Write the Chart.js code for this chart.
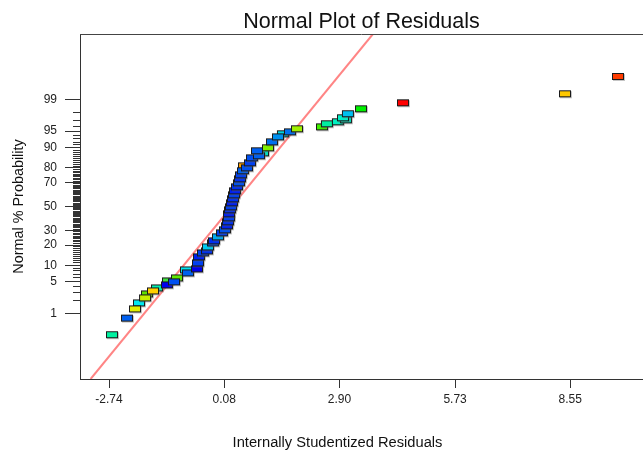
<!DOCTYPE html>
<html>
<head>
<meta charset="utf-8">
<script src="https://cdn.jsdelivr.net/npm/chart.js@4.4.0/dist/chart.umd.min.js"></script>
<style>
  body{margin:0;background:#fff;}
  #caja{width:643px;height:451px;}
</style>
</head>
<body>
<div id="caja"><canvas id="grafico"></canvas></div>
<script>
// residuos estudentizados y su % de probabilidad normal
var residuos = [0.563, 1.028, 1.517, -1.811, -1.297, -0.856,
  -2.667, -2.30, -2.006, -2.104, -1.859, -1.566, -1.664, -1.321, -1.076, -1.150,
  -0.807, -0.587, -0.563, -0.538, -0.44, -0.342, -0.318, -0.196, -0.171, -0.073,
  0.025, 0.098, 0.147, 0.172, 0.196, 0.196, 0.221, 0.245, 0.269, 0.294, 0.318,
  0.343, 0.392, 0.441, 0.465, 0.49, 0.539, 0.636, 0.71, 0.759, 0.93, 0.881,
  1.15, 1.248, 1.395, 1.689, 1.86, 2.472, 2.594, 2.863, 3.059, 2.986, 3.108,
  3.427, 4.455, 8.42, 9.717];
var probabilidad = [81.24, 87.90, 94.35, 2.84, 5.24, 8.35,
  0.26, 0.75, 1.78, 1.28, 2.32, 3.80, 3.29, 4.37, 5.98, 5.02,
  7.39, 8.69, 10.95, 13.61, 15.60, 16.67, 18.94, 21.39, 22.69, 25.40,
  28.27, 30.53, 33.65, 36.89, 40.21, 43.64, 47.09, 49.70, 53.17, 56.62, 60.03,
  63.35, 66.59, 69.70, 72.68, 75.50, 78.17, 80.04, 82.94, 85.57, 86.54, 88.76,
  89.96, 92.07, 93.56, 94.82, 95.49, 95.88, 96.43, 96.76, 97.06, 97.34, 97.84,
  98.34, 98.81, 99.30, 99.77];
var colores = ['#ffa000', '#00e0c0', '#00d8e0', '#60e000', '#40e040', '#00e0f0',
  '#00f0a0', '#0060f0', '#00e8f0', '#e0f000', '#c8f000', '#00f0b0', '#ffd000', '#0000f0', '#60e800', '#0050f0',
  '#0060f0', '#0000e8', '#0040f0', '#0020f0', '#0040f0', '#0030e8', '#00c8f0', '#0050f0', '#0030f0', '#00a8f0',
  '#0040f0', '#0050f0', '#0020f0', '#0030f0', '#0040f0', '#0020f0', '#0030f0', '#0040f0', '#0020f0', '#0030f0', '#0040f0',
  '#0020f0', '#0030f0', '#0050f0', '#0030f0', '#0040f0', '#0060f0', '#0050f0', '#0040f0', '#0050f0', '#0060f0', '#0060f0',
  '#80f000', '#0070f0', '#0090f0', '#0070f0', '#a0f000', '#40f000', '#00f0a0', '#00f0c0', '#00e8c0', '#00f0c8', '#00c0f0',
  '#00f000', '#ff0000', '#ffc800', '#ff3c00'];

// linea de referencia (extremos, en unidades normales)
var lineaX = [-3.19, 3.72];
var lineaZ = [-3.76, 3.76];

var ticksX = [-2.74, 0.08, 2.90, 5.73, 8.55];
var ticksMayores = [1, 5, 10, 20, 30, 50, 70, 80, 90, 95, 99];
var ticksY = [];
for (var k = 1; k <= 99; k++) ticksY.push(k);

Chart.defaults.font.family = 'Arial, "Liberation Sans", sans-serif';

// inversa de la normal acumulada (Acklam)
function probit(p){
  var a=[-3.969683028665376e+01,2.209460984245205e+02,-2.759285104469687e+02,1.383577518672690e+02,-3.066479806614716e+01,2.506628277459239e+00];
  var b=[-5.447609879822406e+01,1.615858368580409e+02,-1.556989798598866e+02,6.680131188771972e+01,-1.328068155288572e+01];
  var c=[-7.784894002430293e-03,-3.223964580411365e-01,-2.400758277161838e+00,-2.549732539343734e+00,4.374664141464968e+00,2.938163982698783e+00];
  var d=[7.784695709041462e-03,3.224671290700398e-01,2.445134137142996e+00,3.754408661907416e+00];
  var q, r;
  if (p < 0.02425) {
    q = Math.sqrt(-2*Math.log(p));
    return (((((c[0]*q+c[1])*q+c[2])*q+c[3])*q+c[4])*q+c[5])/((((d[0]*q+d[1])*q+d[2])*q+d[3])*q+1);
  }
  if (p > 1-0.02425) {
    q = Math.sqrt(-2*Math.log(1-p));
    return -(((((c[0]*q+c[1])*q+c[2])*q+c[3])*q+c[4])*q+c[5])/((((d[0]*q+d[1])*q+d[2])*q+d[3])*q+1);
  }
  q = p-0.5; r = q*q;
  return (((((a[0]*r+a[1])*r+a[2])*r+a[3])*r+a[4])*r+a[5])*q/(((((b[0]*r+b[1])*r+b[2])*r+b[3])*r+b[4])*r+1);
}

// rectangulo con borde y sombra, centrado en el punto
var marcas = {};
function marca(color){
  if (marcas[color]) return marcas[color];
  var cv = document.createElement('canvas');
  cv.width = 16; cv.height = 11;
  var g = cv.getContext('2d');
  g.fillStyle = 'rgba(110,110,110,0.4)';
  g.fillRect(3, 3, 12, 7);
  g.fillStyle = color;
  g.fillRect(2, 2, 12, 7);
  g.strokeStyle = '#1a1a1a';
  g.lineWidth = 1;
  g.strokeRect(2.5, 2.5, 11, 6);
  marcas[color] = cv;
  return cv;
}

function esMayor(i){
  return ticksMayores.indexOf(ticksY[i]) >= 0;
}

var puntos = [];
for (var i = 0; i < residuos.length; i++) {
  puntos.push({x: residuos[i], y: probit(probabilidad[i]/100)});
}
var linea = [];
for (var j = 0; j < lineaX.length; j++) {
  linea.push({x: lineaX[j], y: lineaZ[j]});
}

// borde superior y titulo del eje x
var extras = {
  id: 'extras',
  afterDraw: function(chart){
    var ctx = chart.ctx, a = chart.chartArea;
    ctx.save();
    ctx.strokeStyle = '#444';
    ctx.lineWidth = 1;
    ctx.beginPath();
    ctx.moveTo(a.left, Math.round(a.top) + 0.5);
    ctx.lineTo(a.right, Math.round(a.top) + 0.5);
    ctx.stroke();
    ctx.fillStyle = '#111';
    ctx.font = '14.7px Arial, "Liberation Sans", sans-serif';
    ctx.textAlign = 'center';
    ctx.textBaseline = 'alphabetic';
    ctx.fillText('Internally Studentized Residuals', chart.width/2 + 16, 447);
    ctx.restore();
  }
};

var ctx = document.getElementById('grafico');
var myChart = new Chart(ctx, {
  type: 'scatter',
  data: {
    datasets: [{
      label: 'Residuals',
      data: puntos,
      pointStyle: colores.map(marca),
      pointRadius: 4
    }, {
      label: 'Referencia',
      data: linea,
      showLine: true,
      borderColor: '#ff8585',
      borderWidth: 2,
      pointRadius: 0
    }]
  },
  options: {
    responsive: true,
    maintainAspectRatio: false,
    animation: false,
    layout: {padding: 0, autoPadding: false},
    plugins: {
      legend: {display: false},
      tooltip: {enabled: false},
      title: {
        display: true,
        text: 'Normal Plot of Residuals',
        fullSize: false,
        color: '#111',
        font: {size: 21.5, weight: 'normal', lineHeight: 1.1},
        padding: {top: 10.35, bottom: 0}
      }
    },
    scales: {
      x: {
        type: 'linear',
        min: -3.45,
        max: 10.33,
        afterBuildTicks: function(s){ s.ticks = ticksX.map(function(v){ return {value: v}; }); },
        afterFit: function(s){ s.height = 72; s.paddingLeft = 0; s.paddingRight = 0; },
        ticks: {
          autoSkip: false, maxRotation: 0, padding: 4, color: '#222',
          font: {size: 12},
          callback: function(v){ return v.toFixed(2); }
        },
        grid: {drawOnChartArea: false, tickLength: 9, tickColor: '#333'},
        border: {color: '#333', width: 1}
      },
      y: {
        type: 'linear',
        min: -3.76,
        max: 3.76,
        afterBuildTicks: function(s){ s.ticks = ticksY.map(function(p){ return {value: probit(p/100)}; }); },
        afterFit: function(s){ s.width = 80; },
        ticks: {
          autoSkip: false, padding: 8, color: '#222',
          font: {size: 12},
          callback: function(v, i){ return esMayor(i) ? String(ticksY[i]) : ''; }
        },
        grid: {
          drawOnChartArea: false,
          tickLength: 15,
          tickColor: '#333',
          tickBorderDash: function(c){ return esMayor(c.index) ? [] : [7, 8]; },
          tickBorderDashOffset: function(c){ return esMayor(c.index) ? 0 : 7; }
        },
        border: {color: '#333', width: 1},
        title: {
          display: true,
          text: 'Normal % Probability',
          color: '#111',
          font: {size: 14.4},
          padding: {top: 10, bottom: 0}
        }
      }
    }
  },
  plugins: [extras]
});
</script>
</body>
</html>
